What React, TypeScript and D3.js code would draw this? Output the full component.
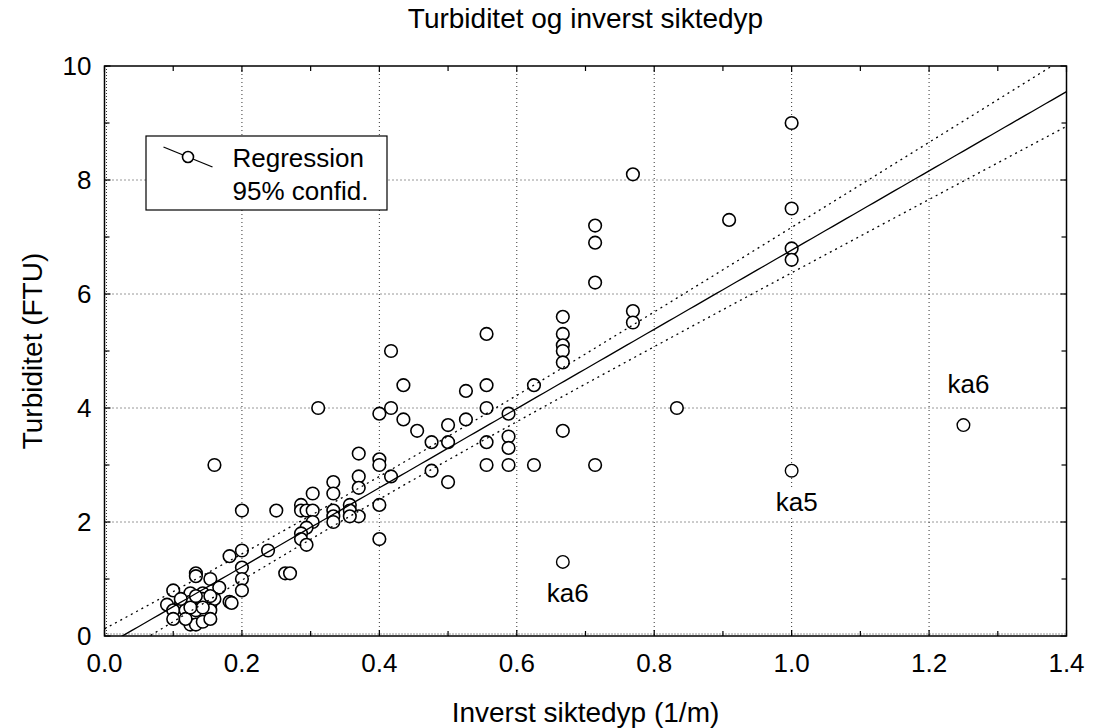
import React from 'react';
import * as d3 from 'd3';

// ---------- data ----------
const xTickValues = [0, 0.2, 0.4, 0.6, 0.8, 1.0, 1.2, 1.4];
const xTickLabels = ['0.0', '0.2', '0.4', '0.6', '0.8', '1.0', '1.2', '1.4'];
const yTickValues = [0, 2, 4, 6, 8, 10];
const yTickLabels = ['0', '2', '4', '6', '8', '10'];

// inverse Secchi depth (1/m)
const pointX = [
  1.0, 0.769, 0.909, 1.0, 0.714, 0.714, 1.0, 1.0, 0.714, 0.769, 0.769,
  0.667, 0.667, 0.667, 0.667, 0.667, 0.556, 0.417, 0.435, 0.526, 0.556, 0.625,
  0.311, 0.4, 0.417, 0.435, 0.455, 0.476, 0.5, 0.5, 0.526, 0.556, 0.588,
  0.556, 0.588, 0.588, 0.556, 0.588, 0.625, 0.667, 0.714, 0.833, 0.476, 0.5,
  0.417, 0.4, 0.4, 0.37, 0.37, 0.37, 0.333, 0.333, 0.303, 0.4, 0.2, 0.25,
  0.286, 0.286, 0.294, 0.303, 0.357, 0.357, 0.37, 0.333, 0.333, 0.333, 0.357,
  0.303, 0.294, 0.286, 0.286, 0.4, 0.294, 0.16, 0.2, 0.238, 0.182, 0.2, 0.2,
  0.2, 0.263, 0.27, 0.182, 0.185,
  0.133, 0.133, 0.154, 0.167, 0.1, 0.125, 0.143, 0.091, 0.111, 0.125, 0.154,
  0.143, 0.16, 0.1, 0.118, 0.133, 0.154, 0.1, 0.125, 0.133, 0.143, 0.154,
  0.118, 0.125, 0.143, 0.111, 0.133, 0.154,
];
// turbidity (FTU)
const pointY = [
  9.0, 8.1, 7.3, 7.5, 7.2, 6.9, 6.8, 6.6, 6.2, 5.7, 5.5,
  5.6, 5.3, 5.1, 5.0, 4.8, 5.3, 5.0, 4.4, 4.3, 4.4, 4.4,
  4.0, 3.9, 4.0, 3.8, 3.6, 3.4, 3.7, 3.4, 3.8, 4.0, 3.9,
  3.4, 3.5, 3.3, 3.0, 3.0, 3.0, 3.6, 3.0, 4.0, 2.9, 2.7,
  2.8, 3.1, 3.0, 3.2, 2.8, 2.6, 2.7, 2.5, 2.5, 2.3, 2.2, 2.2,
  2.3, 2.2, 2.2, 2.2, 2.3, 2.2, 2.1, 2.2, 2.1, 2.0, 2.1,
  2.0, 1.9, 1.8, 1.7, 1.7, 1.6, 3.0, 1.5, 1.5, 1.4, 1.2, 1.0,
  0.8, 1.1, 1.1, 0.6, 0.58,
  1.1, 1.05, 1.0, 0.85, 0.8, 0.75, 0.75, 0.55, 0.55, 0.6, 0.55,
  0.65, 0.65, 0.45, 0.45, 0.45, 0.45, 0.3, 0.2, 0.2, 0.25, 0.3,
  0.3, 0.5, 0.5, 0.65, 0.7, 0.7,
];

// labelled outliers
const outlierX = [0.667, 1.0, 1.25];
const outlierY = [1.3, 2.9, 3.7];
const outlierNames = ['ka6', 'ka5', 'ka6'];
const outlierPlace = ['below', 'below', 'above'];

// regression fit and 95% confidence band parameters
const regIntercept = -0.18;
const regSlope = 6.95;
const bandA = 0.04;
const bandB = 0.33;
const bandXMean = 0.4;

const title = 'Turbiditet og inverst siktedyp';
const xTitle = 'Inverst siktedyp (1/m)';
const yTitle = 'Turbiditet (FTU)';
const legendLines = ['Regression', '95% confid.'];

// ---------- layout ----------
const W = 1093;
const H = 728;
const L = 104.5;
const R = 1066.5;
const T = 66;
const B = 636;
const FONT = '"Liberation Sans", Arial, Helvetica, sans-serif';
const TICK_FS = 26;
const TITLE_FS = 28;

export default function App() {
  const x = d3.scaleLinear().domain([0, 1.4]).range([L, R]);
  const y = d3.scaleLinear().domain([0, 10]).range([B, T]);

  const fit = (v: number) => regIntercept + regSlope * v;
  const hw = (v: number) => Math.sqrt(bandA + bandB * (v - bandXMean) * (v - bandXMean));
  const samples = d3.range(0, 1.4001, 0.01);
  const line = d3
    .line<number[]>()
    .x((d) => x(d[0]))
    .y((d) => y(d[1]));
  const regPath = line(samples.map((v) => [v, fit(v)]));
  const upPath = line(samples.map((v) => [v, fit(v) + hw(v)]));
  const loPath = line(samples.map((v) => [v, fit(v) - hw(v)]));

  const xMinor = d3.range(0.1, 1.4, 0.2);
  const yMinor = d3.range(1, 10, 2);

  const gridColor = '#333';

  return (
    <svg
      width={W}
      height={H}
      style={{ position: 'absolute', left: 0, top: 0, background: '#fff' }}
      fontFamily={FONT}
    >
      <defs>
        <clipPath id="plotclip">
          <rect x={L} y={T} width={R - L} height={B - T} />
        </clipPath>
      </defs>
      <rect x={0} y={0} width={W} height={H} fill="#fff" />

      {/* grid */}
      <g stroke={gridColor} strokeWidth={1} strokeDasharray="1,3" fill="none">
        {xTickValues.slice(1, -1).map((v) => (
          <line key={'gx' + v} x1={x(v)} x2={x(v)} y1={T} y2={B} />
        ))}
        {yTickValues.slice(1, -1).map((v) => (
          <line key={'gy' + v} x1={L} x2={R} y1={y(v)} y2={y(v)} />
        ))}
        <line x1={L + 2} x2={L + 2} y1={T} y2={B} strokeDasharray="1,2" />
        <line x1={L} x2={R} y1={B - 2} y2={B - 2} strokeDasharray="1,2" />
      </g>

      {/* points */}
      <g fill="#fff" stroke="#000" strokeWidth={1.6}>
        {pointX.map((v, i) => (
          <circle key={'p' + i} cx={x(v)} cy={y(pointY[i])} r={6.3} />
        ))}
      </g>

      {/* outlier labels */}
      {outlierX.map((v, i) => {
        const cx = x(v);
        const cy = y(outlierY[i]);
        const by = outlierPlace[i] === 'below' ? cy + 40 : cy - 32;
        return (
          <g key={'o' + i}>
            <rect x={cx + 5 - 32} y={by - 21} width={64} height={28} fill="#fff" />
            <text x={cx + 5} y={by} textAnchor="middle" fontSize={TICK_FS} fill="#000">
              {outlierNames[i]}
            </text>
            <circle cx={cx} cy={cy} r={6.3} fill="#fff" stroke="#000" strokeWidth={1.4} />
          </g>
        );
      })}

      {/* regression + confidence */}
      <g clipPath="url(#plotclip)" fill="none" stroke="#000">
        <path d={regPath || ''} strokeWidth={1.3} />
        <path d={upPath || ''} strokeWidth={1.3} strokeDasharray="2,4" />
        <path d={loPath || ''} strokeWidth={1.3} strokeDasharray="2,4" />
      </g>

      {/* frame */}
      <rect x={L} y={T} width={R - L} height={B - T} fill="none" stroke="#000" strokeWidth={1.5} />

      {/* ticks */}
      <g stroke="#000" strokeWidth={1.2}>
        {xTickValues.map((v) => (
          <g key={'xt' + v}>
            <line x1={x(v)} x2={x(v)} y1={B} y2={B - 6} />
            <line x1={x(v)} x2={x(v)} y1={T} y2={T + 6} />
          </g>
        ))}
        {xMinor.map((v) => (
          <g key={'xm' + v}>
            <line x1={x(v)} x2={x(v)} y1={B} y2={B - 5} />
            <line x1={x(v)} x2={x(v)} y1={T} y2={T + 5} />
          </g>
        ))}
        {yTickValues.map((v) => (
          <g key={'yt' + v}>
            <line x1={L} x2={L + 6} y1={y(v)} y2={y(v)} />
            <line x1={R} x2={R - 6} y1={y(v)} y2={y(v)} />
          </g>
        ))}
        {yMinor.map((v) => (
          <g key={'ym' + v}>
            <line x1={L} x2={L + 5} y1={y(v)} y2={y(v)} />
            <line x1={R} x2={R - 5} y1={y(v)} y2={y(v)} />
          </g>
        ))}
      </g>

      {/* tick labels */}
      <g fontSize={TICK_FS} fill="#000">
        {xTickValues.map((v, i) => (
          <text key={'xl' + v} x={x(v)} y={B + 36} textAnchor="middle">
            {xTickLabels[i]}
          </text>
        ))}
        {yTickValues.map((v, i) => (
          <text key={'yl' + v} x={L - 13} y={y(v) + 9} textAnchor="end">
            {yTickLabels[i]}
          </text>
        ))}
      </g>

      {/* titles */}
      <text x={(L + R) / 2} y={28} textAnchor="middle" fontSize={TITLE_FS} fill="#000">
        {title}
      </text>
      <text x={(L + R) / 2} y={722} textAnchor="middle" fontSize={TITLE_FS} fill="#000">
        {xTitle}
      </text>
      <text
        transform={`translate(42,${(T + B) / 2}) rotate(-90)`}
        textAnchor="middle"
        fontSize={TITLE_FS}
        fill="#000"
      >
        {yTitle}
      </text>

      {/* legend */}
      <g>
        <rect x={L + 41.5} y={T + 70} width={241} height={74} fill="#fff" stroke="#000" strokeWidth={1.2} />
        <line x1={L + 59} y1={T + 81} x2={L + 108} y2={T + 101} stroke="#000" strokeWidth={1.3} />
        <circle cx={L + 83.5} cy={T + 91} r={5.5} fill="#fff" stroke="#000" strokeWidth={1.6} />
        <text x={L + 128} y={T + 101} fontSize={TICK_FS} fill="#000">
          {legendLines[0]}
        </text>
        <text x={L + 128} y={T + 134} fontSize={TICK_FS} fill="#000">
          {legendLines[1]}
        </text>
      </g>
    </svg>
  );
}
